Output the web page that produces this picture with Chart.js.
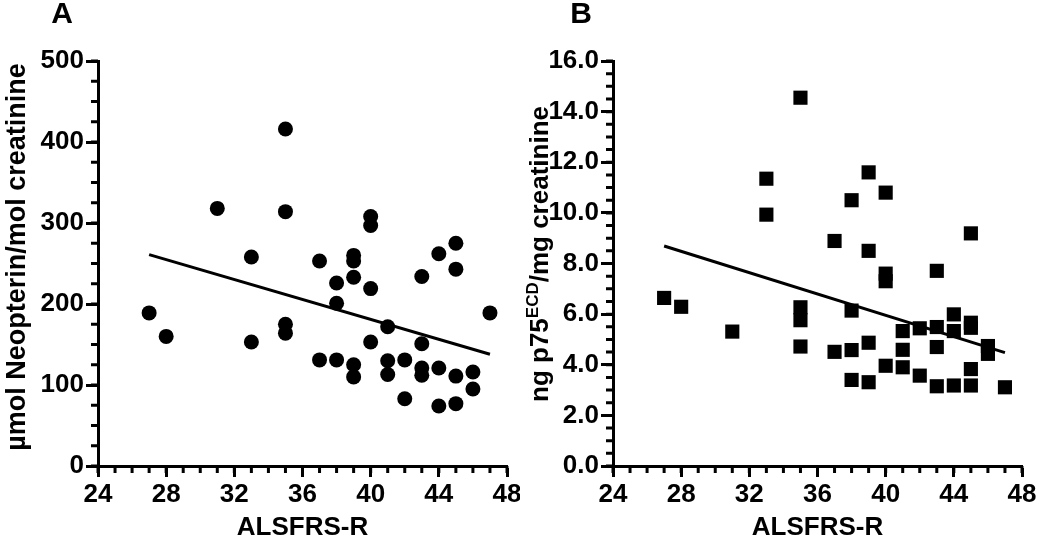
<!DOCTYPE html>
<html>
<head>
<meta charset="utf-8">
<script src="https://cdn.jsdelivr.net/npm/chart.js@4.4.0/dist/chart.umd.min.js"></script>
<style>
    html, body { margin: 0; padding: 0; background: #fff; overflow: hidden; }
    #wrap { position: relative; width: 1040px; height: 541px; }
    .panel { position: absolute; top: 0; width: 520px; height: 541px; }
</style>
</head>
<body>
<div id="wrap">
    <div class="panel" style="left:0"><canvas id="chartA" width="520" height="541"></canvas></div>
    <div class="panel" style="left:520px"><canvas id="chartB" width="520" height="541"></canvas></div>
</div>
<script>
// Панель A: неоптерин
const xA = [27, 28, 31, 33, 33, 35, 35, 35, 35, 37, 37, 38, 38, 38, 39, 39, 39, 39, 39, 40, 40, 40, 40,
            41, 41, 41, 42, 42, 43, 43, 43, 43, 44, 44, 44, 45, 45, 45, 45, 46, 46, 47];
const yA = [189, 160, 318, 258, 153, 416, 314, 175, 164, 253, 131, 226, 201, 131, 260, 253, 233, 125, 110,
            308, 297, 219, 153, 172, 130, 113, 131, 83, 234, 151, 121, 112, 262, 121, 74, 275, 243, 111, 77,
            116, 95, 189];
const fitXA = [27, 47];
const fitYA = [261, 138];

// Панель B: p75ECD
const xB = [27, 28, 31, 33, 33, 35, 35, 35, 35, 37, 37, 38, 38, 38, 38, 39, 39, 39, 39, 40, 40, 40, 40,
            41, 41, 41, 42, 42, 43, 43, 43, 43, 44, 44, 44, 45, 45, 45, 45, 45, 46, 46, 47];
const yB = [6.64, 6.29, 5.31, 11.35, 9.93, 14.55, 6.27, 5.76, 4.72, 8.89, 4.51, 10.5, 6.14, 4.58, 3.4,
            11.6, 8.5, 4.87, 3.31, 10.8, 7.6, 7.3, 3.96, 5.33, 4.59, 3.9, 5.44, 3.57, 7.71, 5.49, 4.7, 3.15,
            5.99, 5.33, 3.18, 9.19, 5.66, 5.46, 3.83, 3.18, 4.74, 4.43, 3.11];
const fitXB = [27, 47];
const fitYB = [8.69, 4.48];

const xTicks = [24, 28, 32, 36, 40, 44, 48];
const yTicksA = [0, 100, 200, 300, 400, 500];
const yTicksB = [0, 2, 4, 6, 8, 10, 12, 14, 16];

const sans = '"Liberation Sans", Arial, Helvetica, sans-serif';

const toPoints = (xs, ys) => xs.map((x, i) => ({ x: x, y: ys[i] }));

// Мелкие деления, буква панели и подпись оси Y (с верхним индексом)
const extras = {
    id: 'extras',
    afterDraw(chart, args, opts) {
        const ctx = chart.ctx;
        const sx = chart.scales.x, sy = chart.scales.y;
        ctx.save();
        ctx.strokeStyle = '#000';
        ctx.lineWidth = 3;
        ctx.beginPath();
        const nx = Math.round((sx.max - sx.min) / opts.xMinor);
        for (let i = 0; i <= nx; i++) {
            const px = sx.getPixelForValue(sx.min + i * opts.xMinor);
            ctx.moveTo(px, sx.top); ctx.lineTo(px, sx.top + 7);
        }
        const ny = Math.round((sy.max - sy.min) / opts.yMinor);
        for (let i = 0; i <= ny; i++) {
            const py = sy.getPixelForValue(sy.min + i * opts.yMinor);
            ctx.moveTo(sy.right, py); ctx.lineTo(sy.right - 7, py);
        }
        ctx.stroke();

        ctx.fillStyle = '#000';
        ctx.font = 'bold 30px ' + sans;
        ctx.textAlign = 'center';
        ctx.textBaseline = 'middle';
        ctx.fillText(opts.letter, opts.letterX, opts.letterY);

        // подпись оси Y
        ctx.translate(opts.titleX, opts.titleY);
        ctx.rotate(-Math.PI / 2);
        ctx.textAlign = 'left';
        ctx.textBaseline = 'middle';
        let total = 0;
        opts.title.forEach(p => {
            ctx.font = 'bold ' + p.size + 'px ' + sans;
            p.w = ctx.measureText(p.text).width;
            total += p.w;
        });
        let cur = -total / 2;
        opts.title.forEach(p => {
            ctx.font = 'bold ' + p.size + 'px ' + sans;
            ctx.fillText(p.text, cur, -(p.up || 0));
            cur += p.w;
        });
        ctx.restore();
    }
};

function makeChart(id, points, fitX, fitY, style, radius, yMax, yTicks, yLabel, extraOpts, yWidth, padRight) {
    return new Chart(document.getElementById(id), {
        type: 'scatter',
        data: {
            datasets: [
                {
                    data: points,
                    backgroundColor: '#000',
                    borderWidth: 0,
                    pointStyle: style,
                    pointRadius: radius,
                    pointHoverRadius: radius
                },
                {
                    type: 'line',
                    data: toPoints(fitX, fitY),
                    borderColor: '#000',
                    borderWidth: 3,
                    pointRadius: 0,
                    fill: false
                }
            ]
        },
        options: {
            responsive: false,
            animation: false,
            layout: { padding: { left: 0, right: padRight, top: 61, bottom: 0 } },
            plugins: {
                legend: { display: false },
                tooltip: { enabled: false },
                extras: extraOpts
            },
            scales: {
                x: {
                    type: 'linear',
                    min: 24, max: 48,
                    afterBuildTicks: s => { s.ticks = xTicks.map(v => ({ value: v })); },
                    afterFit: s => { s.height = 75; s.paddingLeft = 0; s.paddingRight = 0; },
                    border: { display: true, color: '#000', width: 3 },
                    grid: { display: true, drawOnChartArea: false, drawTicks: true, tickLength: 11, tickWidth: 3, tickColor: '#000' },
                    ticks: { color: '#000', padding: 2, font: { family: sans, size: 26, weight: 'bold' } },
                    title: { display: true, text: 'ALSFRS-R', color: '#000', padding: { top: 0, bottom: 0 },
                             font: { family: sans, size: 26, weight: 'bold', lineHeight: 1 } }
                },
                y: {
                    min: 0, max: yMax,
                    afterBuildTicks: s => { s.ticks = yTicks.map(v => ({ value: v })); },
                    afterFit: s => { s.width = yWidth; s.paddingTop = 0; s.paddingBottom = 0; },
                    border: { display: true, color: '#000', width: 3 },
                    grid: { display: true, drawOnChartArea: false, drawTicks: true, tickLength: 12, tickWidth: 3, tickColor: '#000' },
                    ticks: { color: '#000', padding: 2, callback: yLabel,
                             font: { family: sans, size: 26, weight: 'bold' } }
                }
            }
        },
        plugins: [extras]
    });
}

document.addEventListener('DOMContentLoaded', function () {
    makeChart('chartA', toPoints(xA, yA), fitXA, fitYA, 'circle', 7.5, 500, yTicksA,
        v => String(v),
        { xMinor: 1, yMinor: 25, letter: 'A', letterX: 62, letterY: 15, titleX: 17.5, titleY: 257,
          title: [{ text: 'µmol Neopterin/mol creatinine', size: 27 }] },
        98, 13);

    makeChart('chartB', toPoints(xB, yB), fitXB, fitYB, 'rect', 10, 16, yTicksB,
        v => v.toFixed(1),
        { xMinor: 1, yMinor: 0.5, letter: 'B', letterX: 61, letterY: 15, titleX: 21, titleY: 254,
          title: [{ text: 'ng p75', size: 26 }, { text: 'ECD', size: 17, up: 8 }, { text: '/mg creatinine', size: 26 }] },
        93, 18);
});
</script>
</body>
</html>
